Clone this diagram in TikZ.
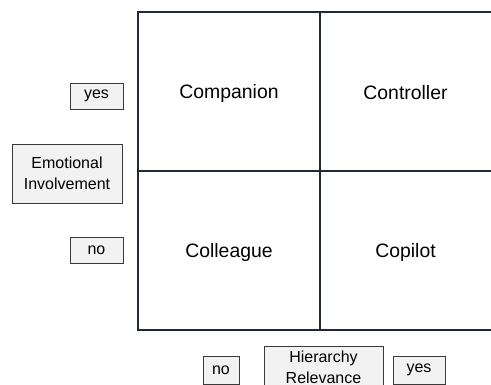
\documentclass[tikz,border=0pt]{standalone}
\usepackage{fontspec}
\setmainfont{Liberation Sans}
\definecolor{gridc}{HTML}{1E2B36}
\definecolor{boxfill}{HTML}{F2F2F2}
\definecolor{boxdraw}{HTML}{3A3A3A}
\begin{document}
\begin{tikzpicture}[x=1pt,y=-1pt,
  gridline/.style={draw=gridc,line width=1.6pt},
  quad/.style={font=\fontsize{19.4}{23}\selectfont,inner sep=0pt},
  tag/.style={draw=boxdraw,fill=boxfill,line width=0.9pt,font=\fontsize{16}{20}\selectfont,
    align=center,inner sep=0pt,anchor=center}]
\useasboundingbox (0,0) rectangle (491,385);
% grid
\coordinate (tl) at (138,12);
\coordinate (tm) at (320,12);
\coordinate (tr) at (491,12);
\coordinate (ml) at (138,171);
\coordinate (mr) at (491,171);
\coordinate (bl) at (138,330);
\coordinate (bm) at (320,330);
\coordinate (br) at (491,330);
\draw[gridline] (tr) -- (tl) -- (bl) -- (br);
\draw[gridline] (tm) -- (bm);
\draw[gridline] (ml) -- (mr);
% quadrant labels
\node[quad] (companion) at (229,93) {Companion};
\node[quad] (controller) at (405.5,93) {Controller};
\node[quad] (colleague) at (229,252) {Colleague};
\node[quad] (copilot) at (405.5,252) {Copilot};
% left labels
\node[tag,minimum width=53,minimum height=26] (yesL) at (96.5,96) {yes};
\node[tag,minimum width=110,minimum height=59,font=\fontsize{16}{20.6}\selectfont] (emo) at (67,173.5) {Emotional\\Involvement};
\node[tag,minimum width=53,minimum height=26] (noL) at (96.5,250) {no};
% bottom labels
\node[tag,minimum width=36,minimum height=28] (noB) at (221,370) {no};
\node[tag,minimum width=119,minimum height=42,font=\fontsize{16}{21}\selectfont] (hier) at (323.5,367) {Hierarchy\\Relevance};
\node[tag,minimum width=52,minimum height=28] (yesB) at (419,370) {yes};
\end{tikzpicture}
\end{document}
